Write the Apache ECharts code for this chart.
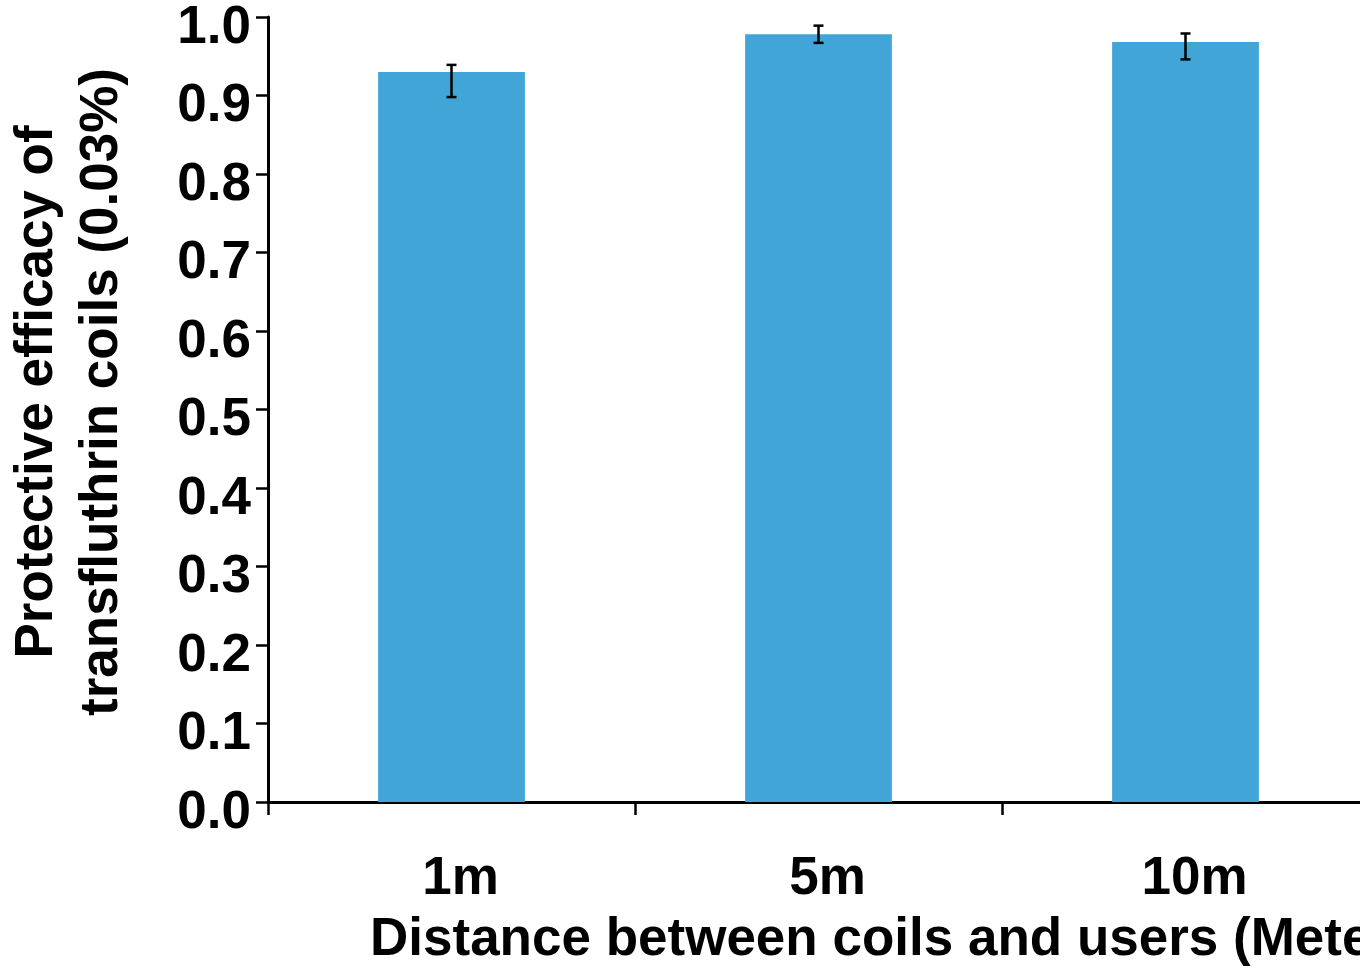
<!DOCTYPE html>
<html>
<head>
<meta charset="utf-8">
<script src="https://cdn.jsdelivr.net/npm/echarts@6/dist/echarts.min.js"></script>
<style>
html,body{margin:0;padding:0;background:#fff;}
#chart{width:1360px;height:969px;}
</style>
</head>
<body>
<div id="chart"></div>
<script>
// ---- data ----
const categories = ['1m', '5m', '10m'];
const efficacy = [0.930, 0.978, 0.968];
const errLow = [0.898, 0.967, 0.946];
const errHigh = [0.939, 0.989, 0.979];
const yMin = 0, yMax = 1.0, yInterval = 0.1;
const xTitle = 'Distance between coils and users (Meters)';
const yTitle = 'Protective efficacy of\ntransfluthrin coils (0.03%)';

const FONT = '"Liberation Sans", Arial, Helvetica, sans-serif';
const chart = echarts.init(document.getElementById('chart'), null, {renderer: 'canvas'});

const errData = categories.map((c, i) => [i, errLow[i], errHigh[i]]);

chart.setOption({
  animation: false,
  backgroundColor: '#ffffff',
  grid: {left: 268, top: 17, bottom: 167, width: 1101, containLabel: false, outerBoundsMode: 'none'},
  xAxis: {
    type: 'category',
    data: categories,
    axisLine: {lineStyle: {color: '#000', width: 3}},
    axisTick: {show: true, length: 13, alignWithLabel: false, lineStyle: {color: '#000', width: 2.5}},
    axisLabel: {color: '#000', fontSize: 53, fontWeight: 'bold', fontFamily: FONT, margin: 51, padding: [0, 0, 0, 18]},
    splitLine: {show: false}
  },
  yAxis: {
    type: 'value',
    min: yMin, max: yMax, interval: yInterval,
    axisLine: {show: true, lineStyle: {color: '#000', width: 3}},
    axisTick: {show: true, length: 12, inside: false, lineStyle: {color: '#000', width: 2.5}},
    axisLabel: {color: '#000', fontSize: 53, fontWeight: 'bold', fontFamily: FONT, margin: 17,
      verticalAlign: 'top', lineHeight: 22,
      formatter: v => v.toFixed(1)},
    splitLine: {show: false}
  },
  graphic: [
    {type: 'text', x: 70, y: 392, rotation: Math.PI / 2,
     style: {text: yTitle, font: 'bold 53px ' + FONT, fill: '#000', align: 'center', verticalAlign: 'middle', lineHeight: 65}},
    {type: 'text', x: 370, y: 940,
     style: {text: xTitle, font: 'bold 53px ' + FONT, fill: '#000', align: 'left', verticalAlign: 'middle'}}
  ],
  series: [
    {
      type: 'bar',
      data: efficacy,
      barWidth: '40%',
      itemStyle: {color: '#42A5D7'},
      z: 2
    },
    {
      type: 'custom',
      data: errData,
      z: 3,
      renderItem: function (params, api) {
        const x = api.value(0);
        const lo = api.coord([x, api.value(1)]);
        const hi = api.coord([x, api.value(2)]);
        const cap = 5;
        const st = {stroke: '#000', lineWidth: 2.5};
        return {
          type: 'group',
          children: [
            {type: 'line', shape: {x1: lo[0], y1: lo[1], x2: hi[0], y2: hi[1]}, style: st},
            {type: 'line', shape: {x1: lo[0] - cap, y1: lo[1], x2: lo[0] + cap, y2: lo[1]}, style: st},
            {type: 'line', shape: {x1: hi[0] - cap, y1: hi[1], x2: hi[0] + cap, y2: hi[1]}, style: st}
          ]
        };
      }
    }
  ]
});
</script>
</body>
</html>
